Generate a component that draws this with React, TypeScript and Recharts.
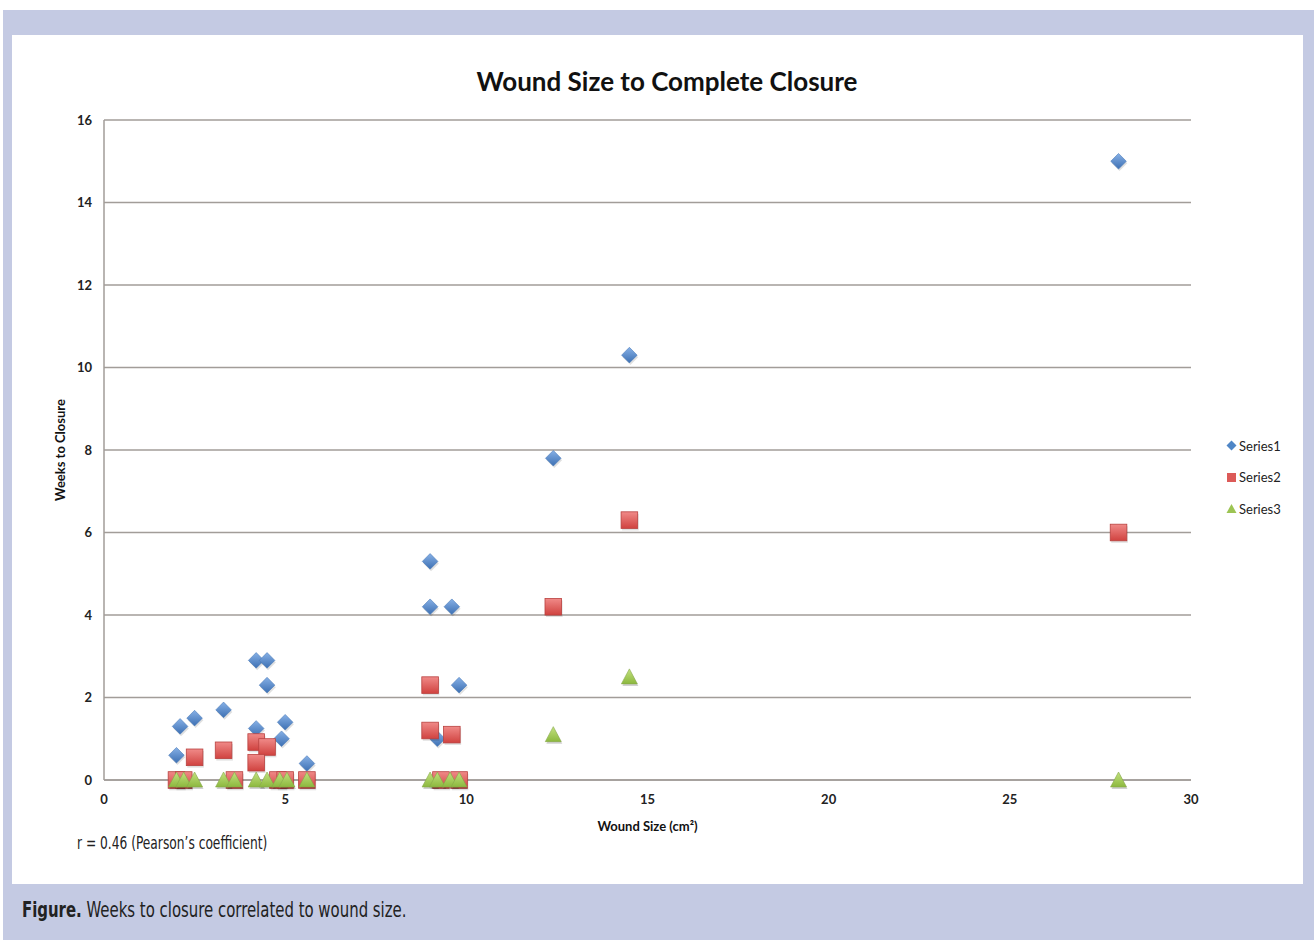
import React from 'react';
import { ScatterChart, Scatter, XAxis, YAxis, CartesianGrid, Legend } from 'recharts';

// ---- data ----
const series1X = [2.0, 2.1, 2.5, 3.3, 4.2, 4.5, 4.5, 4.2, 5.0, 4.9, 5.6, 9.0, 9.0, 9.6, 9.8, 9.2, 12.4, 14.5, 28.0];
const series1Y = [0.6, 1.3, 1.5, 1.7, 2.9, 2.9, 2.3, 1.25, 1.4, 1.0, 0.4, 5.3, 4.2, 4.2, 2.3, 1.0, 7.8, 10.3, 15.0];

const series2X = [2.0, 2.2, 3.6, 4.8, 5.0, 5.6, 9.3, 9.8, 2.5, 3.3, 4.2, 4.5, 4.2, 9.0, 9.0, 9.6, 12.4, 14.5, 28.0];
const series2Y = [0, 0, 0, 0, 0, 0, 0, 0, 0.55, 0.72, 0.92, 0.8, 0.42, 2.3, 1.2, 1.1, 4.2, 6.3, 6.0];

const series3X = [2.0, 2.2, 2.5, 3.3, 3.6, 4.2, 4.5, 4.85, 5.05, 5.6, 9.0, 9.2, 9.55, 9.8, 12.4, 14.5, 28.0];
const series3Y = [0, 0, 0, 0, 0, 0, 0, 0, 0, 0, 0, 0, 0, 0, 1.1, 2.5, 0];

const seriesNames = ['Series1', 'Series2', 'Series3'];
const xTicks = [0, 5, 10, 15, 20, 25, 30];
const yTicks = [0, 2, 4, 6, 8, 10, 12, 14, 16];

const toPoints = (xs: number[], ys: number[]) => xs.map((x, i) => ({ x, y: ys[i] }));
const data1 = toPoints(series1X, series1Y);
const data2 = toPoints(series2X, series2Y);
const data3 = toPoints(series3X, series3Y);

// ---- shapes ----
const Diamond = (props: any) => {
  const { cx, cy } = props;
  if (cx == null || cy == null) return null;
  const r = 7.8;
  return (
    <g>
      <polygon
        points={`${cx + 1},${cy - r + 2} ${cx + r + 1},${cy + 2} ${cx + 1},${cy + r + 2} ${cx - r + 1},${cy + 2}`}
        fill="rgba(0,0,0,0.12)"
      />
      <polygon
        points={`${cx},${cy - r} ${cx + r},${cy} ${cx},${cy + r} ${cx - r},${cy}`}
        fill="url(#gBlue)"
        stroke="#4a7ab8"
        strokeWidth={0.6}
      />
    </g>
  );
};

const Square = (props: any) => {
  const { cx, cy } = props;
  if (cx == null || cy == null) return null;
  const h = 8.3;
  return (
    <g>
      <rect x={cx - h + 1} y={cy - h + 2} width={2 * h} height={2 * h} fill="rgba(0,0,0,0.12)" />
      <rect
        x={cx - h}
        y={cy - h}
        width={2 * h}
        height={2 * h}
        fill="url(#gRed)"
        stroke="#b8413f"
        strokeWidth={0.8}
      />
    </g>
  );
};

const Triangle = (props: any) => {
  const { cx, cy } = props;
  if (cx == null || cy == null) return null;
  return (
    <g>
      <polygon
        points={`${cx + 1},${cy - 8 + 2} ${cx + 8 + 1},${cy + 7 + 2} ${cx - 8 + 1},${cy + 7 + 2}`}
        fill="rgba(0,0,0,0.18)"
      />
      <polygon
        points={`${cx},${cy - 8} ${cx + 8},${cy + 7} ${cx - 8},${cy + 7}`}
        fill="url(#gGreen)"
        stroke="#86a84a"
        strokeWidth={0.6}
      />
    </g>
  );
};

const legendMarker = (name: string) => {
  if (name === 'Series1')
    return <polygon points="5.5,0.5 10.5,5.5 5.5,10.5 0.5,5.5" fill="#4f86c6" />;
  if (name === 'Series2') return <rect x={1} y={1} width={9} height={9} fill="#dc5a58" />;
  return <polygon points="5.5,1 10.5,10 0.5,10" fill="#9cc453" />;
};

const LegendContent = (props: any) => {
  const payload = props.payload || [];
  return (
    <div style={{ fontFamily: 'Lato, sans-serif', fontSize: 13, color: '#222' }}>
      {payload.map((p: any) => (
        <div key={p.value} style={{ display: 'flex', alignItems: 'center', height: 31.5 }}>
          <svg width={11} height={11} style={{ marginRight: 2 }}>
            {legendMarker(p.value)}
          </svg>
          <span>{p.value}</span>
        </div>
      ))}
    </div>
  );
};

const gridColor = '#a29d99';
const narrowFont = '"Liberation Sans Narrow", "DejaVu Sans Condensed", "Roboto Condensed", Roboto, sans-serif';

export default function App() {
  return (
    <div style={{ position: 'absolute', left: 0, top: 0, width: 1314, height: 940, background: '#fff', overflow: 'hidden' }}>
      <div style={{ position: 'absolute', left: 3, top: 10, width: 1311, height: 930, background: '#c4cae3' }} />
      <div style={{ position: 'absolute', left: 12, top: 35, width: 1291, height: 849, background: '#fff' }} />
      <div
        style={{
          position: 'absolute',
          left: 0,
          width: 1334,
          top: 63,
          textAlign: 'center',
          fontFamily: 'Lato, sans-serif',
          fontWeight: 700,
          fontSize: 26,
          lineHeight: '36px',
          color: '#111',
        }}
      >
        Wound Size to Complete Closure
      </div>
      <div style={{ position: 'absolute', left: 0, top: 0 }}>
        <ScatterChart
          width={1314}
          height={940}
          margin={{ top: 120, right: 123, bottom: 100, left: 18 }}
          style={{ fontFamily: 'Lato, sans-serif' }}
        >
          <defs>
            <linearGradient id="gBlue" x1="0" y1="0" x2="0" y2="1">
              <stop offset="0%" stopColor="#86b0e6" />
              <stop offset="100%" stopColor="#3d70b3" />
            </linearGradient>
            <linearGradient id="gRed" x1="0" y1="0" x2="0" y2="1">
              <stop offset="0%" stopColor="#f08a88" />
              <stop offset="100%" stopColor="#d0423f" />
            </linearGradient>
            <linearGradient id="gGreen" x1="0" y1="0" x2="0" y2="1">
              <stop offset="0%" stopColor="#c3e27f" />
              <stop offset="100%" stopColor="#8cb83e" />
            </linearGradient>
          </defs>
          <CartesianGrid vertical={false} stroke={gridColor} strokeWidth={1.5} />
          <XAxis
            type="number"
            dataKey="x"
            domain={[0, 30]}
            ticks={xTicks}
            interval={0}
            height={60}
            tickLine={false}
            tickSize={0}
            tickMargin={15}
            axisLine={{ stroke: gridColor, strokeWidth: 1.5 }}
            tick={{ fill: '#222', fontSize: 13, fontWeight: 700 }}
            label={{
              value: 'Wound Size (cm²)',
              position: 'insideBottom',
              offset: 9,
              fill: '#111',
              fontSize: 13,
              fontWeight: 700,
            }}
          />
          <YAxis
            type="number"
            dataKey="y"
            domain={[0, 16]}
            ticks={yTicks}
            interval={0}
            width={86}
            tickLine={false}
            tickSize={0}
            tickMargin={12}
            axisLine={{ stroke: gridColor, strokeWidth: 1.5 }}
            tick={{ fill: '#222', fontSize: 13, fontWeight: 700 }}
            label={{
              value: 'Weeks to Closure',
              angle: -90,
              position: 'center',
              dx: -1,
              fill: '#111',
              fontSize: 13,
              fontWeight: 700,
            }}
          />
          <Legend
            layout="vertical"
            align="center"
            verticalAlign="middle"
            wrapperStyle={{ left: 1226, top: 430, width: 84 }}
            content={<LegendContent />}
          />
          <Scatter name={seriesNames[0]} data={data1} shape={<Diamond />} fill="#4f86c6" isAnimationActive={false} />
          <Scatter name={seriesNames[1]} data={data2} shape={<Square />} fill="#dc5a58" isAnimationActive={false} />
          <Scatter name={seriesNames[2]} data={data3} shape={<Triangle />} fill="#9cc453" isAnimationActive={false} />
        </ScatterChart>
      </div>
      <div
        style={{
          position: 'absolute',
          left: 77,
          top: 831,
          fontFamily: narrowFont,
          fontSize: 17,
          lineHeight: '24px',
          color: '#222',
          whiteSpace: 'nowrap',
          transform: 'scaleX(0.8)',
          transformOrigin: 'left center',
        }}
      >
        r = 0.46 (Pearson’s coefficient)
      </div>
      <div
        style={{
          position: 'absolute',
          left: 22,
          top: 895,
          fontFamily: narrowFont,
          fontSize: 21,
          lineHeight: '30px',
          color: '#222',
          whiteSpace: 'nowrap',
          transform: 'scaleX(0.79)',
          transformOrigin: 'left center',
        }}
      >
        <b>Figure.</b> Weeks to closure correlated to wound size.
      </div>
    </div>
  );
}
